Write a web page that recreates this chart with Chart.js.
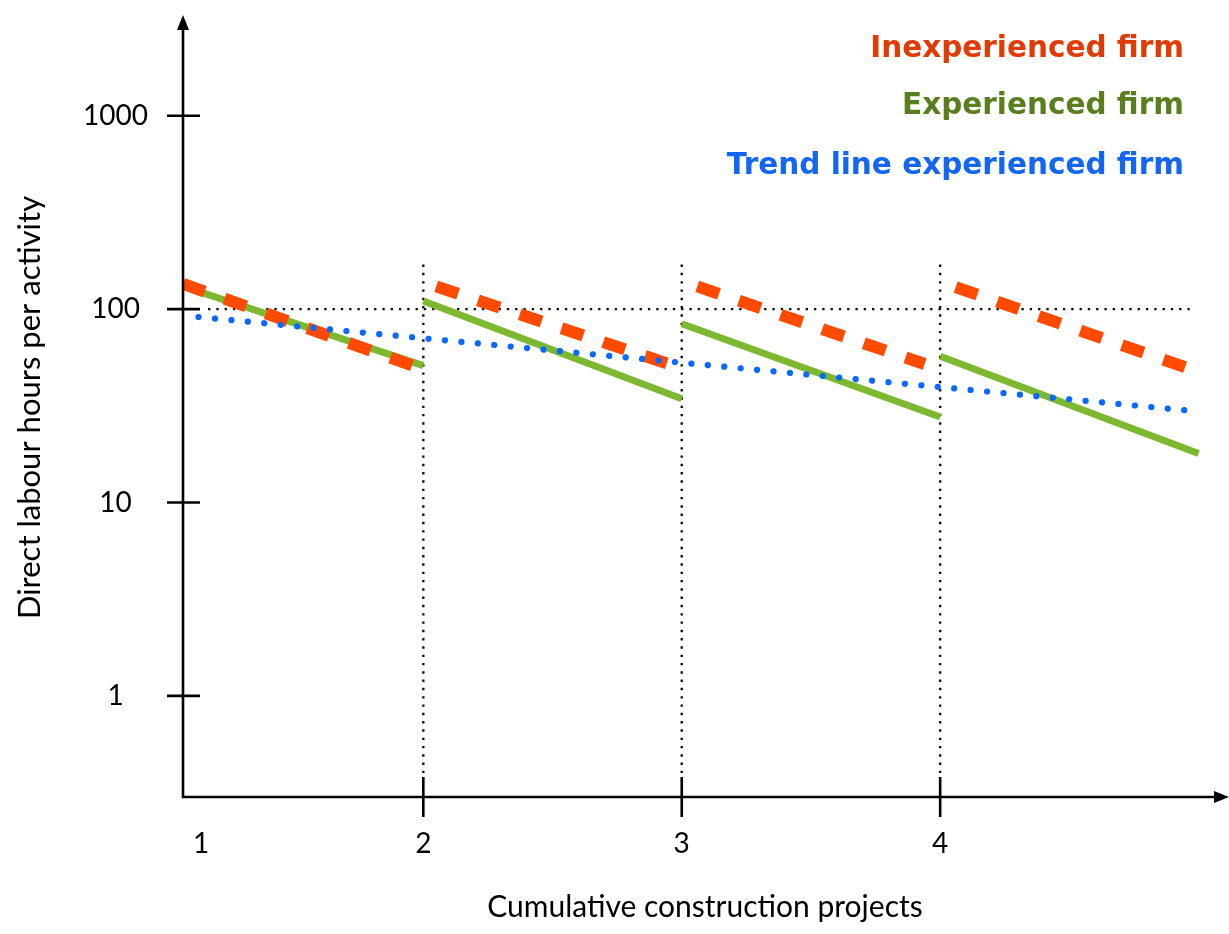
<!DOCTYPE html>
<html>
<head>
<meta charset="utf-8">
<script src="https://cdn.jsdelivr.net/npm/chart.js@4.4.1/dist/chart.umd.min.js"></script>
<style>
  html, body { margin: 0; padding: 0; background: #ffffff; }
  #wrap { width: 1229px; height: 934px; position: relative; }
</style>
</head>
<body>
<div id="wrap"><canvas id="c"></canvas></div>
<script>
// Project axis: tick labels and where they sit, plus project boundaries
const projectTickLabels = ['1', '2', '3', '4'];
const projectTickAt = [1.14, 2, 3, 4];
const projectBoundaries = [2, 3, 4];
const hourTicks = [1, 10, 100, 1000];

// Inexperienced firm: one falling segment per project
const inexperiencedStartX = [1.07, 2.05, 3.06, 4.06];
const inexperiencedEndX = [1.96, 2.95, 3.94, 4.95];
const inexperiencedStartHours = [135, 131, 131, 130];
const inexperiencedEndHours = [51, 52, 52, 50];

// Experienced firm: one falling segment per project
const experiencedStartX = [1.07, 2, 3, 4];
const experiencedEndX = [2, 3, 4, 5];
const experiencedStartHours = [131, 110, 84, 57];
const experiencedEndHours = [51, 34.4, 27.7, 17.9];

// Trend line of the experienced firm
const trendX = [1.13, 4.97];
const trendHours = [91, 29.8];

// Guides
const referenceHours = 100;
const boundaryTopHours = 170;

function segments(sx, ex, sy, ey) {
  const pts = [];
  for (let i = 0; i < sx.length; i++) {
    pts.push({ x: sx[i], y: sy[i] });
    pts.push({ x: ex[i], y: ey[i] });
    pts.push({ x: ex[i], y: null });
  }
  return pts;
}

const FONT = 'Lato, "Open Sans", "DejaVu Sans", sans-serif';
const LEGEND_FONT = '"DejaVu Sans", "Open Sans", Lato, sans-serif';

function noEdgePadding(s) {
  s.paddingTop = 0;
  s.paddingBottom = 0;
  s.paddingLeft = 0;
  s.paddingRight = 0;
}

const axesPlugin = {
  id: 'axesPlugin',
  beforeDatasetsDraw(chart) {
    const { ctx, chartArea: a, scales: { x, y } } = chart;
    ctx.save();
    ctx.strokeStyle = '#111111';
    ctx.lineWidth = 2.4;
    ctx.lineCap = 'butt';
    ctx.setLineDash([2.4, 5.9]);
    const yRef = y.getPixelForValue(referenceHours);
    ctx.beginPath();
    ctx.moveTo(a.left + 25, yRef);
    ctx.lineTo(x.getPixelForValue(4.98), yRef);
    ctx.stroke();
    for (const b of projectBoundaries) {
      const px = x.getPixelForValue(b);
      ctx.beginPath();
      ctx.moveTo(px, y.getPixelForValue(boundaryTopHours));
      ctx.lineTo(px, a.bottom - 24);
      ctx.stroke();
    }
    ctx.restore();
  },
  afterDatasetsDraw(chart) {
    const { ctx, chartArea: a, scales: { x, y } } = chart;
    ctx.save();
    ctx.strokeStyle = '#000000';
    ctx.fillStyle = '#000000';
    ctx.lineWidth = 2.6;
    ctx.setLineDash([]);
    // axis lines
    ctx.beginPath();
    ctx.moveTo(a.left, a.top + 8);
    ctx.lineTo(a.left, a.bottom);
    ctx.lineTo(a.right - 8, a.bottom);
    ctx.stroke();
    // arrow heads
    ctx.beginPath();
    ctx.moveTo(a.left, a.top - 3);
    ctx.lineTo(a.left - 6, a.top + 12);
    ctx.lineTo(a.left + 6, a.top + 12);
    ctx.closePath();
    ctx.fill();
    ctx.beginPath();
    ctx.moveTo(a.right + 2, a.bottom);
    ctx.lineTo(a.right - 13, a.bottom - 6);
    ctx.lineTo(a.right - 13, a.bottom + 6);
    ctx.closePath();
    ctx.fill();
    // tick marks crossing the axes
    for (const v of hourTicks) {
      const py = y.getPixelForValue(v);
      ctx.beginPath();
      ctx.moveTo(a.left - 16, py);
      ctx.lineTo(a.left + 17, py);
      ctx.stroke();
    }
    for (const b of projectBoundaries) {
      const px = x.getPixelForValue(b);
      ctx.beginPath();
      ctx.moveTo(px, a.bottom - 20);
      ctx.lineTo(px, a.bottom + 20);
      ctx.stroke();
    }
    // legend as coloured text, right aligned
    ctx.font = 'bold 29.5px ' + LEGEND_FONT;
    ctx.textAlign = 'right';
    ctx.textBaseline = 'alphabetic';
    const baselines = [57, 114, 174];
    const order = [1, 0, 2];
    order.forEach((di, row) => {
      const ds = chart.data.datasets[di];
      ctx.fillStyle = ds.legendColor;
      ctx.fillText(ds.label, 1184, baselines[row]);
    });
    ctx.restore();
  }
};

const ctx = document.getElementById('c').getContext('2d');
new Chart(ctx, {
  type: 'line',
  data: {
    datasets: [
      {
        label: 'Experienced firm',
        legendColor: '#587e1d',
        data: segments(experiencedStartX, experiencedEndX, experiencedStartHours, experiencedEndHours),
        borderColor: '#7cb930',
        borderWidth: 7,
        borderCapStyle: 'butt',
        pointRadius: 0,
        spanGaps: false,
        order: 3
      },
      {
        label: 'Inexperienced firm',
        legendColor: '#e23a05',
        data: segments(inexperiencedStartX, inexperiencedEndX, inexperiencedStartHours, inexperiencedEndHours),
        borderColor: '#ff4a00',
        borderWidth: 12,
        borderDash: [23, 21],
        borderCapStyle: 'butt',
        pointRadius: 0,
        spanGaps: false,
        order: 2
      },
      {
        label: 'Trend line experienced firm',
        legendColor: '#1266f2',
        data: trendX.map((v, i) => ({ x: v, y: trendHours[i] })),
        borderColor: '#0a68ff',
        borderWidth: 6.2,
        borderDash: [0.1, 16.4],
        borderCapStyle: 'round',
        pointRadius: 0,
        order: 1
      }
    ]
  },
  options: {
    responsive: true,
    maintainAspectRatio: false,
    animation: false,
    events: [],
    layout: { padding: { top: 18, right: 2, left: 0, bottom: 0 } },
    plugins: { legend: { display: false }, tooltip: { enabled: false } },
    scales: {
      x: {
        type: 'linear',
        min: 1.07,
        max: 5.11,
        grid: { display: false, drawTicks: false },
        border: { display: false },
        afterBuildTicks: (s) => { s.ticks = projectTickAt.map(v => ({ value: v })); },
        afterFit: (s) => { s.height = 137; noEdgePadding(s); },
        ticks: {
          autoSkip: false,
          maxRotation: 0,
          padding: 30,
          color: '#000000',
          font: { family: FONT, size: 28 },
          callback: (v, i) => projectTickLabels[i]
        },
        title: {
          display: true,
          text: 'Cumulative construction projects',
          color: '#000000',
          font: { family: FONT, size: 30 },
          padding: { top: 0, bottom: 9 }
        }
      },
      y: {
        type: 'logarithmic',
        min: 0.309,
        max: 3201,
        grid: { display: false, drawTicks: false },
        border: { display: false },
        afterBuildTicks: (s) => { s.ticks = hourTicks.map(v => ({ value: v })); },
        afterFit: (s) => { s.width = 183; noEdgePadding(s); },
        ticks: {
          autoSkip: false,
          crossAlign: 'center',
          padding: 35,
          color: '#000000',
          font: { family: FONT, size: 28 },
          callback: (v) => String(v)
        },
        title: {
          display: true,
          text: 'Direct labour hours per activity',
          color: '#000000',
          font: { family: FONT, size: 31 },
          padding: { top: 11, bottom: 0 }
        }
      }
    }
  },
  plugins: [axesPlugin]
});
</script>
</body>
</html>
